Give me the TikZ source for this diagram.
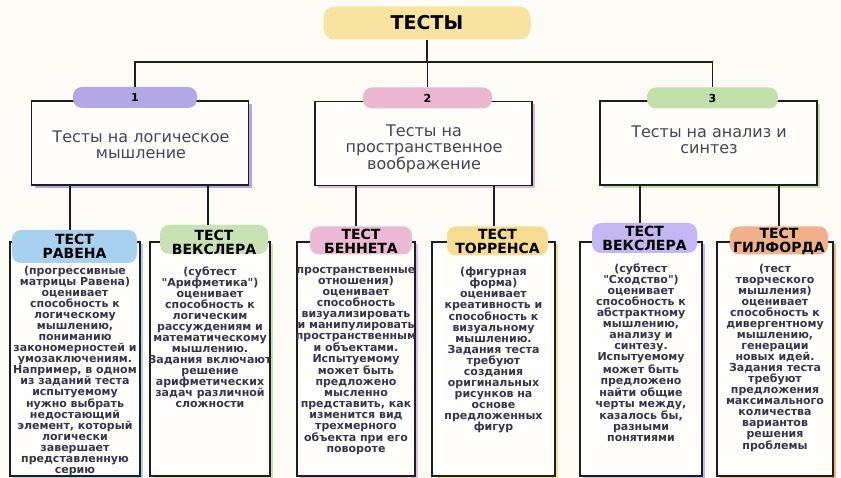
\documentclass[tikz,border=0pt]{standalone}
\usepackage{fontspec}
\setmainfont{DejaVu Sans}
\usetikzlibrary{shadows,calc}
\definecolor{bgc}{HTML}{FCFBF6}
\definecolor{boxw}{HTML}{FFFEFB}
\definecolor{lineblk}{HTML}{1E1E1E}
\definecolor{midtxt}{HTML}{45445A}
\definecolor{bodytxt}{HTML}{38344C}
\definecolor{ctitle}{HTML}{F8E3A0}
\definecolor{cone}{HTML}{B3A8E6}
\definecolor{ctwo}{HTML}{E9B7D0}
\definecolor{cthree}{HTML}{C2E0AB}
\definecolor{cbA}{HTML}{A8D1F0}
\definecolor{cbB}{HTML}{C8E2B5}
\definecolor{cbC}{HTML}{EBB9D3}
\definecolor{cbD}{HTML}{F6DC90}
\definecolor{cbE}{HTML}{C3B6F1}
\definecolor{cbF}{HTML}{F0B089}
\begin{document}
\begin{tikzpicture}[x=1pt,y=-1pt,
  conn/.style={draw=lineblk, line width=1.5pt},
  midbox/.style={draw=lineblk, line width=1.5pt, fill=boxw, inner sep=0pt,
    minimum width=217, minimum height=84,
    general shadow={fill=#1, shadow xshift=3pt, shadow yshift=-3pt}},
  lowbox/.style={draw=lineblk, line width=1.4pt, fill=boxw, inner sep=0pt,
    minimum height=234,
    general shadow={fill=#1, shadow xshift=3pt, shadow yshift=-2pt}},
  pill/.style={fill=#1, draw=none, rounded corners=9pt, inner sep=0pt},
  pilltext/.style={inner sep=0pt, align=center, text=black,
    font=\bfseries\fontsize{14}{14}\selectfont},
  midpill/.style={fill=#1, draw=none, rounded corners=9pt, inner sep=0pt,
    minimum height=21, font=\bfseries\fontsize{11}{12}\selectfont},
  midtext/.style={align=center, inner sep=0pt, text=midtxt,
    font=\fontsize{16}{16.5}\selectfont},
  body/.style={align=center, inner sep=0pt, anchor=north, text=bodytxt,
    font=\bfseries\fontsize{11}{11}\selectfont}
]
\useasboundingbox (0,0) rectangle (841,478);
\fill[bgc] (0,0) rectangle (841,478);

% title
\node[fill=ctitle, rounded corners=11pt, minimum width=207, minimum height=33, inner sep=0pt,
  font=\bfseries\fontsize{19}{20}\selectfont] (title) at (427,23) {ТЕСТЫ};

% mid boxes
\node[midbox=cone] (m1) at (140,143) {};
\node[midbox=ctwo] (m2) at (423.5,143.5) {};
\node[midbox=cthree] (m3) at (708.5,143) {};
\node[midpill=cone, minimum width=124] (n1) at (135,97.5) {1};
\node[midpill=ctwo, minimum width=129] (n2) at (427.5,98) {2};
\node[midpill=cthree, minimum width=131] (n3) at (712.5,98) {3};
\node[midtext] (t1) at (141,145) {Тесты на логическое\\мышление};
\node[midtext] (t2) at (424,148.5) {Тесты на\\пространственное\\воображение};
\node[midtext] (t3) at (709,140) {Тесты на анализ и\\синтез};

% connectors top
\coordinate (bar) at (427,62);
\draw[conn] (title.south) -- (title.south |- bar);
\draw[conn] (n1.north) -- (n1.north |- bar) -- (n3.north |- bar) -- (n3.north);
\draw[conn] (n2.north) -- (n2.north |- bar);

% lower boxes
\node[lowbox=cbA, minimum width=130] (b1) at (75,359) {};
\node[lowbox=cbB, minimum width=120] (b2) at (210,359) {};
\node[lowbox=cbC, minimum width=118] (b3) at (356,359) {};
\node[lowbox=cbD, minimum width=123] (b4) at (493.5,359) {};
\node[lowbox=cbE, minimum width=122] (b5) at (641,359) {};
\node[lowbox=cbF, minimum width=116] (b6) at (775,359) {};

\node[pill=cbA, minimum width=125, minimum height=33] (p1) at (74.5,246.5) {};
\node[pill=cbB, minimum width=108, minimum height=29] (p2) at (214,239.5) {};
\node[pill=cbC, minimum width=102, minimum height=28] (p3) at (361,240.5) {};
\node[pill=cbD, minimum width=101, minimum height=29] (p4) at (497.5,241) {};
\node[pill=cbE, minimum width=105, minimum height=30] (p5) at (644.5,238) {};
\node[pill=cbF, minimum width=98, minimum height=28] (p6) at (779,240.5) {};
\node[pilltext] (q1) at (74.5,246) {ТЕСТ\\РАВЕНА};
\node[pilltext] (q2) at (214,242) {ТЕСТ\\ВЕКСЛЕРА};
\node[pilltext] (q3) at (361,241.5) {ТЕСТ\\БЕННЕТА};
\node[pilltext] (q4) at (497.5,241.5) {ТЕСТ\\ТОРРЕНСА};
\node[pilltext] (q5) at (644.5,238) {ТЕСТ\\ВЕКСЛЕРА};
\node[pilltext] (q6) at (779,241.5) {ТЕСТ\\ГИЛФОРДА};

% connectors bottom
\draw[conn] ([xshift=-4.5pt]p1.north) -- ([xshift=-4.5pt]p1.north |- m1.south);
\draw[conn] ([xshift=-6pt]p2.north) -- ([xshift=-6pt]p2.north |- m1.south);
\draw[conn] ([xshift=-5pt]p3.north) -- ([xshift=-5pt]p3.north |- m2.south);
\draw[conn] ([xshift=-3.5pt]p4.north) -- ([xshift=-3.5pt]p4.north |- m2.south);
\draw[conn] ([xshift=-4.5pt]p5.north) -- ([xshift=-4.5pt]p5.north |- m3.south);
\draw[conn] (p6.north) -- (p6.north |- m3.south);

% body texts
\node[body] (x1) at (75,266) {(прогрессивные\\матрицы Равена)\\оценивает\\способность к\\логическому\\мышлению,\\пониманию\\закономерностей и\\умозаключениям.\\Например, в одном\\из заданий теста\\испытуемому\\нужно выбрать\\недостающий\\элемент, который\\логически\\завершает\\представленную\\серию};
\node[body] (x2) at (210,267) {(субтест\\\textquotedbl Арифметика\textquotedbl)\\оценивает\\способность к\\логическим\\рассуждениям и\\математическому\\мышлению.\\Задания включают\\решение\\арифметических\\задач различной\\сложности};
\node[body] (x3) at (356,267) {пространственные\\отношения)\\оценивает\\способность\\визуализировать\\и манипулировать\\пространственным\\и объектами.\\Испытуемому\\может быть\\предложено\\мысленно\\представить, как\\изменится вид\\трехмерного\\объекта при его\\повороте};
\node[body] (x4) at (493.5,267) {(фигурная\\форма)\\оценивает\\креативность и\\способность к\\визуальному\\мышлению.\\Задания теста\\требуют\\создания\\оригинальных\\рисунков на\\основе\\предложенных\\фигур};
\node[body] (x5) at (641,264) {(субтест\\\textquotedbl Сходство\textquotedbl)\\оценивает\\способность к\\абстрактному\\мышлению,\\анализу и\\синтезу.\\Испытуемому\\может быть\\предложено\\найти общие\\черты между,\\казалось бы,\\разными\\понятиями};
\node[body] (x6) at (775,264) {(тест\\творческого\\мышления)\\оценивает\\способность к\\дивергентному\\мышлению,\\генерации\\новых идей.\\Задания теста\\требуют\\предложения\\максимального\\количества\\вариантов\\решения\\проблемы};
\end{tikzpicture}
\end{document}
